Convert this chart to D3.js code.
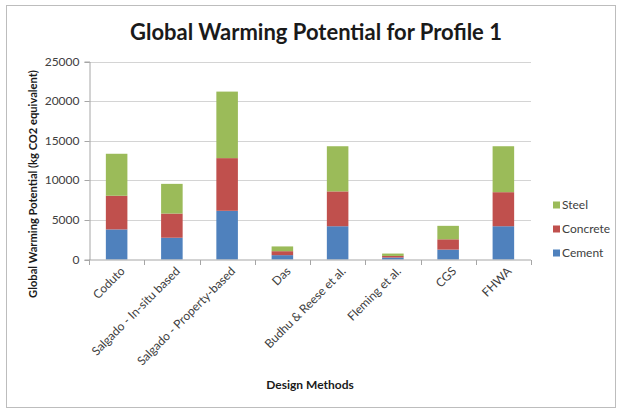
<!DOCTYPE html>
<html>
<head>
<meta charset="utf-8">
<script src="https://cdn.jsdelivr.net/npm/d3@7/dist/d3.min.js"></script>
<style>
  html, body { margin: 0; padding: 0; background: #fff; }
  svg { display: block; }
</style>
</head>
<body>
<svg id="chart" width="617" height="409"></svg>
<script>
const categories = ["Coduto", "Salgado - In-situ based", "Salgado - Property-based", "Das", "Budhu & Reese et al.", "Fleming et al.", "CGS", "FHWA"];
const cement   = [3800, 2750, 6150, 550, 4200, 250, 1250, 4200];
const concrete = [4250, 3050, 6650, 500, 4400, 200, 1300, 4300];
const steel    = [5300, 3750, 8400, 600, 5700, 300, 1700, 5800];
const seriesNames = ["Cement", "Concrete", "Steel"];
const seriesColors = ["#4F81BD", "#C0504D", "#9BBB59"];
const yTicks = [0, 5000, 10000, 15000, 20000, 25000];
const title = "Global Warming Potential for Profile 1";
const yTitle = "Global Warming Potential (kg CO2 equivalent)";
const xTitle = "Design Methods";

const font = "Lato, 'Open Sans', 'Liberation Sans', sans-serif";
const svg = d3.select("#chart");

function fitText(sel, target) {
  const len = sel.node().getComputedTextLength();
  const fs = parseFloat(sel.style("font-size"));
  sel.style("font-size", (fs * target / len).toFixed(2) + "px");
}

// frame
svg.append("rect").attr("x", 6.5).attr("y", 5.5).attr("width", 609).attr("height", 402)
  .attr("fill", "#fff").attr("stroke", "#bdbdbd").attr("stroke-width", 1);

const table = categories.map((c, i) => ({ cat: c, Cement: cement[i], Concrete: concrete[i], Steel: steel[i] }));
const stacked = d3.stack().keys(seriesNames)(table);

const x = d3.scaleBand().domain(categories).range([89, 531]).paddingInner(0.61).paddingOuter(0.305);
const y = d3.scaleLinear().domain([0, 25000]).range([259.5, 61.5]);

// gridlines
svg.append("g").selectAll("line").data(yTicks.slice(1)).join("line")
  .attr("x1", 89).attr("x2", 531)
  .attr("y1", d => Math.round(y(d)) + 0.5).attr("y2", d => Math.round(y(d)) + 0.5)
  .attr("stroke", "#d4d4d4").attr("stroke-width", 1);

// y axis
const yAxis = svg.append("g").attr("transform", "translate(89.5,0)")
  .call(d3.axisLeft(y).tickValues(yTicks).tickSize(5).tickPadding(5).tickFormat(d3.format("d")));
yAxis.select(".domain").attr("stroke", "#a6a6a6");
yAxis.selectAll(".tick line").attr("stroke", "#a6a6a6");
yAxis.selectAll(".tick text").attr("fill", "#404040").style("font-family", font).style("font-size", "12px");
yAxis.selectAll(".tick").attr("transform", d => `translate(0,${Math.round(y(d)) + 0.5})`);

// bars
svg.append("g").selectAll("g").data(stacked).join("g")
  .attr("fill", (d, i) => seriesColors[i])
  .selectAll("rect").data(d => d).join("rect")
  .attr("x", d => x(d.data.cat))
  .attr("width", x.bandwidth())
  .attr("y", d => y(d[1]))
  .attr("height", d => y(d[0]) - y(d[1]));

// x axis line and ticks at category boundaries
const step = x.step();
const bounds = d3.range(categories.length + 1).map(i => 89 + i * step);
svg.append("line").attr("x1", 89).attr("x2", 531).attr("y1", 260).attr("y2", 260)
  .attr("stroke", "#a6a6a6");
svg.append("g").selectAll("line").data(bounds).join("line")
  .attr("x1", d => Math.round(d) + 0.5).attr("x2", d => Math.round(d) + 0.5)
  .attr("y1", 260).attr("y2", 265).attr("stroke", "#a6a6a6");

// x labels
svg.append("g").selectAll("text").data(categories).join("text")
  .attr("transform", d => `translate(${x(d) + x.bandwidth() / 2 + 6},${269}) rotate(-45)`)
  .attr("text-anchor", "end")
  .attr("dy", "0.35em")
  .attr("fill", "#404040")
  .style("font-family", font).style("font-size", "12px")
  .text(d => d);

// title
const t = svg.append("text").attr("x", 316).attr("y", 40).attr("text-anchor", "middle")
  .style("font-family", font).style("font-size", "22px").style("font-weight", "bold")
  .attr("fill", "#1a1a1a").text(title);
fitText(t, 372);

// y title
const yt = svg.append("text").attr("transform", "translate(37,184) rotate(-90)").attr("text-anchor", "middle")
  .style("font-family", font).style("font-size", "11px").style("font-weight", "bold")
  .attr("fill", "#1a1a1a").text(yTitle);
fitText(yt, 228);

// x title
svg.append("text").attr("x", 310).attr("y", 389).attr("text-anchor", "middle")
  .style("font-family", font).style("font-size", "12px").style("font-weight", "bold")
  .attr("fill", "#1a1a1a").text(xTitle);

// legend
const legendItems = ["Steel", "Concrete", "Cement"];
const legendY = [205, 229, 253];
const lg = svg.append("g").selectAll("g").data(legendItems).join("g")
  .attr("transform", (d, i) => `translate(553,${legendY[i]})`);
lg.append("rect").attr("x", 0).attr("y", -3.5).attr("width", 7).attr("height", 7)
  .attr("fill", d => seriesColors[seriesNames.indexOf(d)]);
lg.append("text").attr("x", 9).attr("dy", "0.35em").attr("fill", "#404040")
  .style("font-family", font).style("font-size", "12px").text(d => d);
</script>
</body>
</html>
